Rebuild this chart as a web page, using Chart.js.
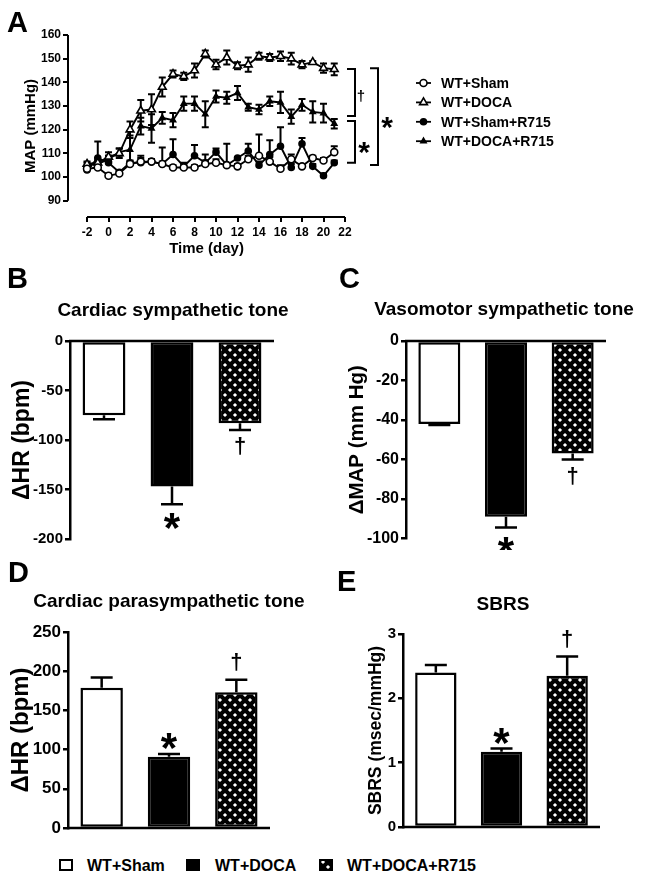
<!DOCTYPE html>
<html>
<head>
<meta charset="utf-8">
<script src="https://cdn.jsdelivr.net/npm/chart.js@4.4.1/dist/chart.umd.min.js"></script>
<style>
body { margin: 0; background: #fff; }
#fig { position: relative; width: 645px; height: 879px; overflow: hidden; background: #fff;
       font-family: "Liberation Sans", Arial, sans-serif; font-weight: bold; color: #000; }
#fig canvas { position: absolute; }
.t { position: absolute; line-height: 1; white-space: nowrap; }
.sw { position: absolute; box-sizing: border-box; border: 2px solid #000; }
</style>
</head>
<body>
<div id="fig">
  <canvas id="chartA" width="645" height="262" style="left:0;top:0"></canvas>
  <canvas id="chartB" width="320" height="280" style="left:0;top:270px"></canvas>
  <canvas id="chartC" width="325" height="280" style="left:320px;top:270px"></canvas>
  <canvas id="chartD" width="320" height="290" style="left:0;top:560px"></canvas>
  <canvas id="chartE" width="325" height="290" style="left:320px;top:560px"></canvas>
</div>
<script>
// ---- Panel A: MAP time course ----
const days = [-2, -1, 0, 1, 2, 3, 4, 5, 6, 7, 8, 9, 10, 11, 12, 13, 14, 15, 16, 17, 18, 19, 20, 21];
const shamMAP = [103.5, 104, 100.5, 101.5, 105.5, 106.5, 106.5, 105.5, 104, 104, 104, 105.5, 106, 105, 104.5, 107.5, 109, 106.5, 103.5, 107.5, 104.5, 108, 107, 110.5];
const shamErr = [1, 1.5, 1, 1, 1, 1.5, 1, 1, 1, 1, 1, 1.5, 1.5, 1, 1, 1.5, 9, 2, 1.5, 2, 1, 1, 1, 2.5];
const docaMAP = [105.5, 106, 108.5, 110, 120, 128, 128.5, 138, 143.5, 142.5, 145, 152, 147.5, 150.5, 147, 147.5, 151, 150.5, 151, 150, 147.5, 148.5, 146, 145.5];
const docaErr = [1, 1, 2, 2, 3.5, 4.5, 6.5, 4, 1.5, 1.5, 3, 1.5, 2, 3, 1.5, 3, 1.5, 1.5, 2, 2.5, 1.5, 0.5, 2, 2.5];
const shamR715MAP = [103, 108, 106, 102, 106, 106, 106.5, 105.5, 109.5, 104.5, 109, 106, 110.5, 105, 108, 111, 105, 109.5, 113, 104, 114, 104.5, 100.5, 106];
const shamR715Err = [1, 7, 3, 1, 1, 3, 1, 7, 6.5, 1.5, 4.5, 3.5, 1.5, 9, 0.5, 3, 1.5, 6, 8, 1.5, 2.5, 1, 1, 1];
const docaR715MAP = [105, 105.5, 107.5, 110.5, 111.5, 121.5, 120.5, 125, 124, 131, 131, 126.5, 134, 133.5, 135.5, 129.5, 128.5, 132, 131.5, 125.5, 130.5, 127.5, 127, 122.5];
const docaR715Err = [1, 1.5, 1.5, 1.5, 6, 3.5, 6, 2.5, 3, 3, 3, 5.5, 2.5, 2.5, 3, 1.5, 2, 2, 4.5, 3, 2.5, 4.5, 4, 2];
const xTicksA = [-2, 0, 2, 4, 6, 8, 10, 12, 14, 16, 18, 20, 22];
const yTicksA = [90, 100, 110, 120, 130, 140, 150, 160];
// significance brackets on the right of panel A (MAP range)
const bracketFrom = [145.6, 123.7, 146];
const bracketTo = [125.8, 106, 105.1];
const bracketMark = ['†', '*', '*'];

// ---- Panels B-E: bar charts ----
const groups = ['WT+Sham', 'WT+DOCA', 'WT+DOCA+R715'];
const cardSymp = [-75, -147, -83];
const cardSympErr = [4, 18, 7];
const vasoSymp = [-42, -89, -57];
const vasoSympErr = [0.5, 5.5, 3];
const cardPara = [179, 91, 173];
const cardParaErr = [13, 3.5, 16];
const sbrs = [2.4, 1.17, 2.35];
const sbrsErr = [0.12, 0.05, 0.3];
const sigMarks = ['', '*', '†'];
const ticksB = [0, -50, -100, -150, -200];
const ticksC = [0, -20, -40, -60, -80, -100];
const ticksD = [0, 50, 100, 150, 200, 250];
const ticksE = [0, 1, 2, 3];

const FONT = '"Liberation Sans", Arial, sans-serif';
Chart.defaults.font.family = FONT;
Chart.defaults.font.weight = 'bold';
Chart.defaults.color = '#000';

// black field with small white diamonds (staggered)
function hatchTile() {
    const c = document.createElement('canvas');
    c.width = 10; c.height = 10;
    const g = c.getContext('2d');
    g.fillStyle = '#000';
    g.fillRect(0, 0, 10, 10);
    g.fillStyle = '#fff';
    [[5, 5], [0, 0], [10, 0], [0, 10], [10, 10]].forEach(([cx, cy]) => {
        g.beginPath();
        g.moveTo(cx, cy - 2.1); g.lineTo(cx + 2.1, cy);
        g.lineTo(cx, cy + 2.1); g.lineTo(cx - 2.1, cy);
        g.closePath();
        g.fill();
    });
    return c;
}
const TILE = hatchTile();
const HATCH = TILE.getContext('2d').createPattern(TILE, 'repeat');

function markBaseline(mark, size, centerY) {
    // alphabetic baseline that puts the glyph centre on centerY
    return centerY + (mark === '*' ? 0.55 : 0.28) * size;
}

// error bars (drawn through the y scale)
const errorBars = {
    id: 'errorBars',
    beforeDatasetsDraw(chart) {
        const ctx = chart.ctx;
        const y = chart.scales.y;
        chart.data.datasets.forEach((ds, i) => {
            if (!ds.errors) return;
            const meta = chart.getDatasetMeta(i);
            ctx.save();
            ctx.strokeStyle = '#000';
            ctx.lineWidth = ds.errWidth || 2;
            meta.data.forEach((el, j) => {
                const raw = ds.data[j];
                const val = typeof raw === 'object' ? raw.y : raw;
                const e = ds.errors[j];
                if (!e) return;
                const sgn = val < 0 ? -1 : 1;
                const hw = ds.capHalf || 4;
                const yHi = y.getPixelForValue(val + sgn * e);
                const yLo = y.getPixelForValue(ds.errBoth ? val - sgn * e : val);
                ctx.beginPath();
                ctx.moveTo(el.x, yLo); ctx.lineTo(el.x, yHi);
                ctx.moveTo(el.x - hw, yHi); ctx.lineTo(el.x + hw, yHi);
                if (ds.errBoth) { ctx.moveTo(el.x - hw, yLo); ctx.lineTo(el.x + hw, yLo); }
                ctx.stroke();
            });
            ctx.restore();
        });
    }
};

// * and † above / below the bars
const sigLabels = {
    id: 'sigLabels',
    afterDatasetsDraw(chart) {
        const ctx = chart.ctx;
        const y = chart.scales.y;
        chart.data.datasets.forEach((ds, i) => {
            if (!ds.marks) return;
            const meta = chart.getDatasetMeta(i);
            meta.data.forEach((el, j) => {
                const m = ds.marks[j];
                if (!m) return;
                const val = ds.data[j];
                const sgn = val < 0 ? -1 : 1;
                const end = y.getPixelForValue(val + sgn * ds.errors[j]);
                const size = m === '*' ? 42 : 22;
                const off = m === '*' ? 15 : 17;
                ctx.save();
                ctx.font = 'bold ' + size + 'px ' + FONT;
                ctx.fillStyle = '#000';
                ctx.textAlign = 'center';
                ctx.textBaseline = 'alphabetic';
                ctx.fillText(m, el.x, markBaseline(m, size, end - sgn * off));
                ctx.restore();
            });
        });
    }
};

// zero line for bar panels
const zeroLine = {
    id: 'zeroLine',
    afterDatasetsDraw(chart) {
        const {ctx, chartArea, scales: {y}} = chart;
        const y0 = y.getPixelForValue(0);
        ctx.save();
        ctx.strokeStyle = '#000';
        ctx.lineWidth = 2.5;
        ctx.beginPath();
        ctx.moveTo(chartArea.left - 1, y0);
        ctx.lineTo(chartArea.right, y0);
        ctx.stroke();
        ctx.restore();
    }
};

// Prism-style detached axes for panel A
const axesA = {
    id: 'axesA',
    beforeDatasetsDraw(chart) {
        const {ctx, chartArea, scales: {x, y}} = chart;
        ctx.save();
        ctx.strokeStyle = '#000';
        ctx.lineWidth = 2;
        ctx.beginPath();
        ctx.moveTo(chartArea.left, y.getPixelForValue(yTicksA[0]));
        ctx.lineTo(chartArea.left, y.getPixelForValue(yTicksA[yTicksA.length - 1]));
        ctx.moveTo(x.getPixelForValue(xTicksA[0]), chartArea.bottom);
        ctx.lineTo(x.getPixelForValue(xTicksA[xTicksA.length - 1]), chartArea.bottom);
        ctx.stroke();
        ctx.restore();
    }
};

// brackets + legend of panel A
const annotA = {
    id: 'annotA',
    afterDraw(chart) {
        const {ctx, scales: {y}} = chart;
        const bx = [355, 355, 378];
        ctx.save();
        ctx.strokeStyle = '#000';
        ctx.fillStyle = '#000';
        ctx.lineWidth = 2;
        bracketFrom.forEach((from, i) => {
            const y1 = y.getPixelForValue(from);
            const y2 = y.getPixelForValue(bracketTo[i]);
            ctx.beginPath();
            ctx.moveTo(bx[i] - 8, y1); ctx.lineTo(bx[i], y1);
            ctx.lineTo(bx[i], y2); ctx.lineTo(bx[i] - 8, y2);
            ctx.stroke();
            const m = bracketMark[i];
            const size = m === '*' ? 30 : 15;
            ctx.font = 'bold ' + size + 'px ' + FONT;
            ctx.textAlign = 'center';
            ctx.fillText(m, bx[i] + (m === '*' ? 9 : 6), markBaseline(m, size, (y1 + y2) / 2 + 4));
        });
        // legend
        ctx.font = 'bold 14px ' + FONT;
        ctx.textAlign = 'left';
        ctx.textBaseline = 'middle';
        chart.data.datasets.forEach((ds, i) => {
            const ly = 83 + i * 19.4;
            ctx.strokeStyle = '#000';
            ctx.lineWidth = 1.8;
            ctx.beginPath();
            ctx.moveTo(416, ly); ctx.lineTo(431, ly);
            ctx.stroke();
            ctx.fillStyle = ds.pointBackgroundColor;
            ctx.strokeStyle = '#000';
            ctx.lineWidth = ds.pointBorderWidth;
            Chart.helpers.drawPoint(ctx, {
                pointStyle: ds.pointStyle, radius: ds.pointRadius,
                borderWidth: ds.pointBorderWidth, rotation: 0
            }, 423.5, ly);
            ctx.fillStyle = '#000';
            ctx.fillText(ds.label, 441, ly + 1);
        });
        ctx.restore();
    }
};

function series(label, values, errs, style, radius, fill, both) {
    return {
        label: label,
        data: days.map((d, i) => ({x: d, y: values[i]})),
        errors: errs,
        errBoth: both,
        errWidth: 2,
        capHalf: 3.5,
        borderColor: '#000',
        borderWidth: 1.9,
        tension: 0,
        fill: false,
        pointStyle: style,
        pointRadius: radius,
        pointBackgroundColor: fill,
        pointBorderColor: '#000',
        pointBorderWidth: 1.6
    };
}

new Chart(document.getElementById('chartA'), {
    type: 'line',
    data: {
        datasets: [
            series('WT+Sham', shamMAP, shamErr, 'circle', 3.5, '#fff', false),
            series('WT+DOCA', docaMAP, docaErr, 'triangle', 4.5, '#fff', true),
            series('WT+Sham+R715', shamR715MAP, shamR715Err, 'circle', 3, '#000', false),
            series('WT+DOCA+R715', docaR715MAP, docaR715Err, 'triangle', 3, '#000', true)
        ]
    },
    options: {
        responsive: false,
        animation: false,
        events: [],
        layout: { padding: { top: 35, right: 300, left: 0, bottom: 0 } },
        plugins: { legend: { display: false }, tooltip: { enabled: false } },
        scales: {
            x: {
                type: 'linear', min: -3.77, max: 22,
                afterBuildTicks: s => { s.ticks = xTicksA.map(v => ({value: v})); },
                afterFit: s => { s.height = 45; },
                grid: { drawOnChartArea: false, drawTicks: true, tickLength: 5, color: '#000', lineWidth: 2 },
                border: { display: false },
                ticks: { font: { size: 12, weight: 'bold' }, padding: 3, maxRotation: 0, autoSkip: false },
                title: { display: true, text: 'Time (day)', font: { size: 15, weight: 'bold' }, padding: { top: 0, bottom: 4 } }
            },
            y: {
                min: 83.1, max: 160,
                afterBuildTicks: s => { s.ticks = yTicksA.map(v => ({value: v})); },
                afterFit: s => { s.width = 68; },
                grid: { drawOnChartArea: false, drawTicks: true, tickLength: 5, color: '#000', lineWidth: 2 },
                border: { display: false },
                ticks: { font: { size: 12, weight: 'bold' }, padding: 2 },
                title: { display: true, text: 'MAP (mmHg)', font: { size: 15, weight: 'bold' }, padding: { top: 22, bottom: 0 } }
            }
        }
    },
    plugins: [errorBars, axesA, annotA]
});

function barChart(id, values, errs, ticks, o) {
    return new Chart(document.getElementById(id), {
        type: 'bar',
        data: {
            labels: groups,
            datasets: [{
                data: values,
                errors: errs,
                marks: sigMarks,
                errWidth: 2.5,
                capHalf: 11,
                backgroundColor: ['#fff', '#000', HATCH],
                borderColor: '#000',
                borderWidth: 2.5,
                borderSkipped: false,
                categoryPercentage: 1,
                barPercentage: 0.63
            }]
        },
        options: {
            responsive: false,
            animation: false,
            events: [],
            layout: { padding: o.padding },
            plugins: { legend: { display: false }, tooltip: { enabled: false } },
            scales: {
                x: { display: false },
                y: {
                    min: o.min, max: o.max,
                    afterBuildTicks: s => { s.ticks = ticks.map(v => ({value: v})); },
                    afterFit: s => { s.width = o.yWidth; },
                    grid: { drawOnChartArea: false, drawTicks: true, tickLength: 5, color: '#000', lineWidth: 2.5 },
                    border: { display: true, color: '#000', width: 2.5 },
                    ticks: { font: { size: o.tickSize, weight: 'bold' }, padding: 2 },
                    title: { display: true, text: o.title, font: { size: o.titleSize, weight: 'bold' }, padding: { top: o.titlePad, bottom: 0 } }
                }
            }
        },
        plugins: [errorBars, zeroLine, sigLabels]
    });
}

barChart('chartB', cardSymp, cardSympErr, ticksB, {
    min: -200, max: 0, yWidth: 70, tickSize: 15, title: 'ΔHR (bpm)', titleSize: 23, titlePad: 8.5,
    padding: { top: 71, right: 46, bottom: 11, left: 0 }
});
barChart('chartC', vasoSymp, vasoSympErr, ticksC, {
    min: -100, max: 0, yWidth: 86, tickSize: 16, title: 'ΔMAP (mm Hg)', titleSize: 20.5, titlePad: 25,
    padding: { top: 71, right: 39, bottom: 11, left: 0 }
});
barChart('chartD', cardPara, cardParaErr, ticksD, {
    min: 0, max: 250, yWidth: 68, tickSize: 17, title: 'ΔHR (bpm)', titleSize: 24, titlePad: 6.5,
    padding: { top: 72, right: 50, bottom: 22, left: 0 }
});
barChart('chartE', sbrs, sbrsErr, ticksE, {
    min: 0, max: 3, yWidth: 83, tickSize: 15, title: 'SBRS (msec/mmHg)', titleSize: 17.5, titlePad: 46,
    padding: { top: 74, right: 45, bottom: 23, left: 0 }
});

// ---- text: panel letters, titles, shared legend ----
const fig = document.getElementById('fig');
function text(str, x, baseline, size, center) {
    const d = document.createElement('div');
    d.className = 't';
    d.textContent = str;
    d.style.fontSize = size + 'px';
    d.style.top = (baseline - 0.8465 * size) + 'px';
    d.style.left = x + 'px';
    if (center) d.style.transform = 'translateX(-50%)';
    fig.appendChild(d);
}
text('A', 7, 33, 29);
text('B', 7, 289, 29);
text('C', 339, 289, 29);
text('D', 8, 583, 29);
text('E', 337, 592, 29);
text('Cardiac sympathetic tone', 173, 316, 19, true);
text('Vasomotor sympathetic tone', 504, 315, 19, true);
text('Cardiac parasympathetic tone', 169, 607, 19, true);
text('SBRS', 503, 610, 19, true);

function swatch(x, bg) {
    const d = document.createElement('div');
    d.className = 'sw';
    d.style.left = x + 'px';
    d.style.top = '859px';
    d.style.width = '14px';
    d.style.height = '12px';
    d.style.background = bg;
    fig.appendChild(d);
}
swatch(59, '#fff');
swatch(186, '#000');
swatch(319, 'url(' + TILE.toDataURL() + ') 2px 1px');
const legX = [87, 215, 347];
groups.forEach((g, i) => text(g, legX[i], 872, 16));
</script>
</body>
</html>
